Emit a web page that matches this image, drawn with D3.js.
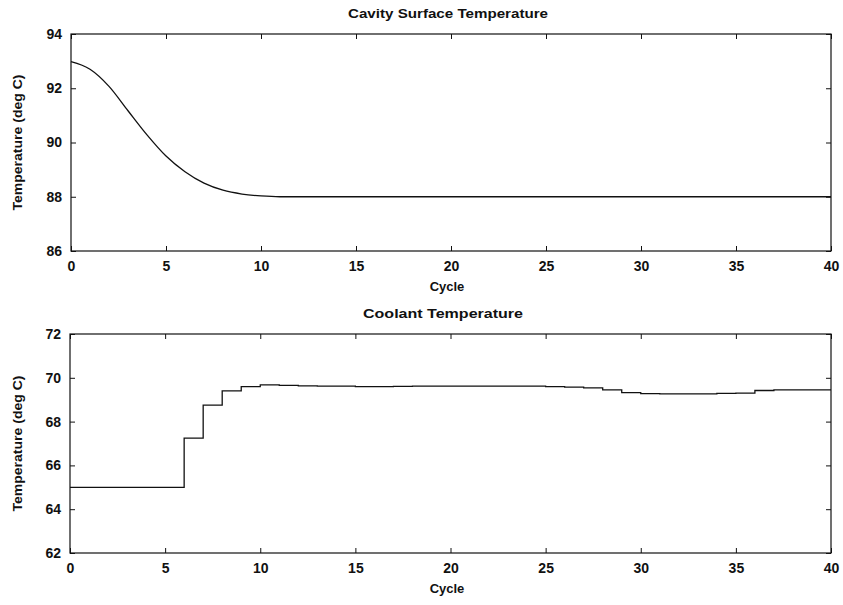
<!DOCTYPE html>
<html>
<head>
<meta charset="utf-8">
<script src="https://cdn.jsdelivr.net/npm/d3@7"></script>
<style>
  body { margin: 0; background: #fff; }
  text { font-family: "Liberation Sans", Arial, sans-serif; fill: #111; }
</style>
</head>
<body>
<div id="vis"></div>
<script>
// data
const cycles = d3.range(0, 41)
const cavityTemp = [92.98, 92.7, 92.07, 91.17, 90.28, 89.5, 88.92, 88.5, 88.24, 88.1,
  88.03, 88.0, 88.0, 88.0, 88.0, 88.0, 88.0, 88.0, 88.0, 88.0,
  88.0, 88.0, 88.0, 88.0, 88.0, 88.0, 88.0, 88.0, 88.0, 88.0,
  88.0, 88.0, 88.0, 88.0, 88.0, 88.0, 88.0, 88.0, 88.0, 88.0, 88.0]
const coolantTemp = [65.0, 65.0, 65.0, 65.0, 65.0, 65.0, 67.25, 68.75, 69.4, 69.6,
  69.68, 69.65, 69.63, 69.62, 69.62, 69.6, 69.6, 69.61, 69.62, 69.62,
  69.62, 69.62, 69.62, 69.62, 69.62, 69.6, 69.57, 69.54, 69.45, 69.32,
  69.28, 69.27, 69.27, 69.27, 69.29, 69.3, 69.42, 69.45, 69.45, 69.45, 69.45]
const xTicks = [0, 5, 10, 15, 20, 25, 30, 35, 40]
const cavityTicks = [86, 88, 90, 92, 94]
const coolantTicks = [62, 64, 66, 68, 70, 72]

const svg = d3.select("#vis").append("svg")
  .attr("width", 843)
  .attr("height", 605)

function drawPanel(opts) {
  const x = d3.scaleLinear().domain([0, 40]).range([opts.left, opts.right])
  const y = d3.scaleLinear().domain(opts.yDomain).range([opts.bottom, opts.top])
  const g = svg.append("g")

  // frame
  g.append("rect")
    .attr("x", opts.left).attr("y", opts.top)
    .attr("width", opts.right - opts.left)
    .attr("height", opts.bottom - opts.top)
    .attr("fill", "none").attr("stroke", "#111").attr("stroke-width", 1.2)

  // inward ticks on all four sides
  const axB = g.append("g").attr("transform", `translate(0,${opts.bottom})`)
    .call(d3.axisBottom(x).tickValues(xTicks).tickSize(-5).tickPadding(10).tickFormat(d3.format("d")))
  const axT = g.append("g").attr("transform", `translate(0,${opts.top})`)
    .call(d3.axisTop(x).tickValues(xTicks).tickSize(-5).tickFormat(""))
  const axL = g.append("g").attr("transform", `translate(${opts.left},0)`)
    .call(d3.axisLeft(y).tickValues(opts.yTicks).tickSize(-5).tickPadding(9).tickFormat(d3.format("d")))
  const axR = g.append("g").attr("transform", `translate(${opts.right},0)`)
    .call(d3.axisRight(y).tickValues(opts.yTicks).tickSize(-5).tickFormat(""))
  ;[axB, axT, axL, axR].forEach(a => {
    a.select(".domain").remove()
    a.selectAll("line").attr("stroke", "#111")
    a.selectAll("text").attr("font-size", 14).attr("font-weight", "bold")
      .attr("font-family", "Liberation Sans, Arial, sans-serif").attr("fill", "#111")
  })

  // line
  const line = d3.line()
    .x((d, i) => x(cycles[i]))
    .y(d => y(d))
    .curve(opts.curve)
  g.append("path")
    .datum(opts.values)
    .attr("d", line)
    .attr("fill", "none")
    .attr("stroke", "#111")
    .attr("stroke-width", 1.3)

  // title
  g.append("text")
    .attr("x", opts.titleX).attr("y", opts.top - 16)
    .attr("text-anchor", "middle")
    .attr("font-size", 12).attr("font-weight", "bold")
    .attr("textLength", opts.titleLen).attr("lengthAdjust", "spacingAndGlyphs")
    .text(opts.title)

  // x label
  g.append("text")
    .attr("x", 447).attr("y", opts.bottom + 40)
    .attr("text-anchor", "middle")
    .attr("font-size", 13).attr("font-weight", "bold")
    .text("Cycle")

  // y label
  g.append("text")
    .attr("transform", `translate(22,${(opts.top + opts.bottom) / 2}) rotate(-90)`)
    .attr("text-anchor", "middle")
    .attr("font-size", 12).attr("font-weight", "bold")
    .attr("textLength", 136).attr("lengthAdjust", "spacingAndGlyphs")
    .text("Temperature (deg C)")
}

drawPanel({
  left: 71, right: 831, top: 34, bottom: 251,
  yDomain: [86, 94], yTicks: cavityTicks,
  values: cavityTemp, curve: d3.curveMonotoneX,
  title: "Cavity Surface Temperature", titleX: 448, titleLen: 200
})

drawPanel({
  left: 70, right: 831, top: 334, bottom: 553,
  yDomain: [62, 72], yTicks: coolantTicks,
  values: coolantTemp, curve: d3.curveStepAfter,
  title: "Coolant Temperature", titleX: 443, titleLen: 160
})
</script>
</body>
</html>
